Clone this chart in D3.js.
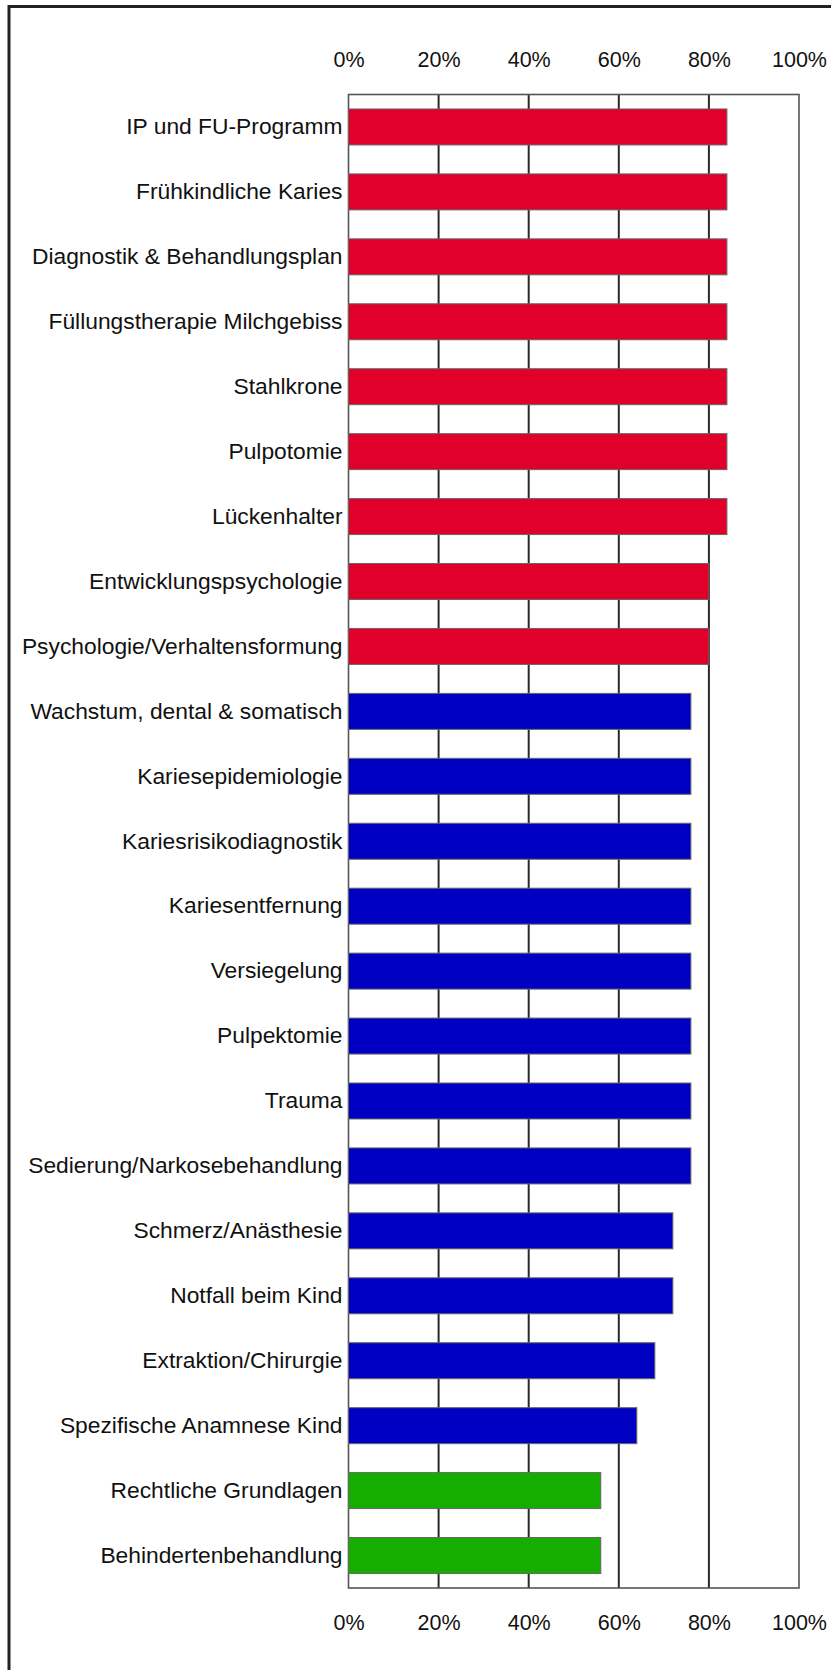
<!DOCTYPE html>
<html>
<head>
<meta charset="utf-8">
<script src="https://cdn.jsdelivr.net/npm/d3@7"></script>
<style>
  html, body { margin: 0; padding: 0; background: #fff; }
  svg { display: block; }
  text { font-family: "Liberation Sans", Arial, sans-serif; fill: #111; }
</style>
</head>
<body>
<svg id="chart" width="831" height="1670"></svg>
<script>
const categories = [
  "IP und FU-Programm",
  "Frühkindliche Karies",
  "Diagnostik & Behandlungsplan",
  "Füllungstherapie Milchgebiss",
  "Stahlkrone",
  "Pulpotomie",
  "Lückenhalter",
  "Entwicklungspsychologie",
  "Psychologie/Verhaltensformung",
  "Wachstum, dental & somatisch",
  "Kariesepidemiologie",
  "Kariesrisikodiagnostik",
  "Kariesentfernung",
  "Versiegelung",
  "Pulpektomie",
  "Trauma",
  "Sedierung/Narkosebehandlung",
  "Schmerz/Anästhesie",
  "Notfall beim Kind",
  "Extraktion/Chirurgie",
  "Spezifische Anamnese Kind",
  "Rechtliche Grundlagen",
  "Behindertenbehandlung"
];
const values = [84, 84, 84, 84, 84, 84, 84, 80, 80, 76, 76, 76, 76, 76, 76, 76, 76, 72, 72, 68, 64, 56, 56];
const groups = ["red","red","red","red","red","red","red","red","red",
  "blue","blue","blue","blue","blue","blue","blue","blue","blue","blue","blue","blue",
  "green","green"];
const groupColors = { red: "#E0002A", blue: "#0000C2", green: "#14AD00" };
const tickValues = [0, 20, 40, 60, 80, 100];

const svg = d3.select("#chart");

// outer frame (right and bottom edges run off the picture)
svg.append("rect")
  .attr("x", 9).attr("y", 6.5)
  .attr("width", 840).attr("height", 1700)
  .attr("fill", "none").attr("stroke", "#222").attr("stroke-width", 3);

const plotLeft = 348.5, plotRight = 799, plotTop = 94.5, plotBottom = 1588;

const x = d3.scaleLinear().domain([0, 100]).range([plotLeft, plotRight]);
const y = d3.scaleBand().domain(categories).range([plotTop, plotBottom])
  .paddingInner(0.446).paddingOuter(0.223);

// grid lines
svg.append("g").selectAll("line")
  .data(tickValues.filter(d => d > 0 && d < 100))
  .join("line")
  .attr("x1", d => x(d)).attr("x2", d => x(d))
  .attr("y1", plotTop).attr("y2", plotBottom)
  .attr("stroke", "#2a2a2a").attr("stroke-width", 2);

// plot frame
svg.append("rect")
  .attr("x", plotLeft).attr("y", plotTop)
  .attr("width", plotRight - plotLeft).attr("height", plotBottom - plotTop)
  .attr("fill", "none").attr("stroke", "#555").attr("stroke-width", 1.6);

// bars
svg.append("g").selectAll("rect")
  .data(categories)
  .join("rect")
  .attr("x", x(0))
  .attr("y", d => y(d))
  .attr("width", (d, i) => x(values[i]) - x(0))
  .attr("height", y.bandwidth())
  .attr("fill", (d, i) => groupColors[groups[i]])
  .attr("stroke", "#666").attr("stroke-width", 1);

// category labels
const yAxis = d3.axisLeft(y).tickSize(0).tickPadding(6);
const gy = svg.append("g").attr("transform", `translate(${plotLeft},0)`).call(yAxis);
gy.select(".domain").remove();
gy.selectAll("text")
  .style("font-family", '"Liberation Sans", Arial, sans-serif')
  .style("font-size", "22.8px").attr("fill", "#161616");

// top and bottom tick labels
const fmt = d => d + "%";
const xTop = d3.axisTop(x).tickValues(tickValues).tickFormat(fmt).tickSize(0).tickPadding(0);
const gt = svg.append("g").attr("transform", `translate(0,67)`).call(xTop);
gt.select(".domain").remove();
gt.selectAll("text").attr("dy", 0).attr("y", 0)
  .style("font-family", '"Liberation Sans", Arial, sans-serif')
  .style("font-size", "21.5px").attr("fill", "#222");

const xBot = d3.axisBottom(x).tickValues(tickValues).tickFormat(fmt).tickSize(0).tickPadding(0);
const gb = svg.append("g").attr("transform", `translate(0,1630)`).call(xBot);
gb.select(".domain").remove();
gb.selectAll("text").attr("dy", 0).attr("y", 0)
  .style("font-family", '"Liberation Sans", Arial, sans-serif')
  .style("font-size", "21.5px").attr("fill", "#222");
</script>
</body>
</html>
